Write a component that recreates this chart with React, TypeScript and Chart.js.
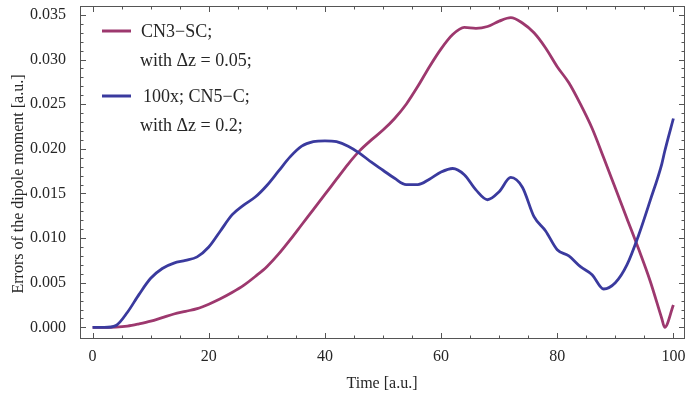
import { useEffect, useRef } from "react";
import { Chart, registerables } from "chart.js";

Chart.register(...registerables);

// ---- data ----
const times = [
  0, 2, 4, 6, 8, 10, 12, 14, 16, 18, 20, 22, 24, 26, 28, 30, 32, 34, 36, 38, 40,
  42, 44, 46, 48, 50, 52, 54, 56, 58, 60, 62, 64, 66, 68, 70, 72, 74, 76, 78, 80,
  82, 84, 86, 88, 90, 92, 94, 96, 98, 98.5, 100,
];

const cn3scErrors = [
  0, 0, 0.00003, 0.00015, 0.0004, 0.0007, 0.0011, 0.0015, 0.0018, 0.0021, 0.0026,
  0.0032, 0.0039, 0.0047, 0.0057, 0.0068, 0.0082, 0.0098, 0.0115, 0.0132, 0.0149,
  0.0166, 0.0183, 0.0198, 0.021, 0.0221, 0.0234, 0.025, 0.027, 0.0292, 0.0312,
  0.0328, 0.0336, 0.0335, 0.0337, 0.0343, 0.0347, 0.0341, 0.033, 0.0313, 0.0292,
  0.0274, 0.025, 0.0223, 0.019, 0.0156, 0.0122, 0.0088, 0.0052, 0.001, 0, 0.0025,
];

const cn5cErrors = [
  0, 0, 0.0002, 0.0017, 0.0037, 0.0055, 0.0066, 0.0072, 0.0075, 0.0079, 0.009,
  0.0108, 0.0126, 0.0137, 0.0146, 0.0159, 0.0175, 0.0191, 0.0203, 0.0208, 0.0209,
  0.0208, 0.0203, 0.0195, 0.0185, 0.0176, 0.0167, 0.016, 0.016, 0.0166, 0.0174,
  0.0178, 0.0171, 0.0154, 0.0143, 0.0152, 0.0168, 0.0157, 0.0124, 0.0108, 0.0087,
  0.008, 0.0068, 0.0059, 0.0043, 0.005, 0.007, 0.0103, 0.0142, 0.0183, 0.0197,
  0.0234,
];

const xTickValues = [0, 20, 40, 60, 80, 100];
const yTickValues = [0, 0.005, 0.01, 0.015, 0.02, 0.025, 0.03, 0.035];

const seriesNames = ["CN3−SC;", "100x; CN5−C;"];
const seriesSubtitles = ["with Δz = 0.05;", "with Δz = 0.2;"];
const xTitle = "Time [a.u.]";
const yTitle = "Errors of the dipole moment [a.u.]";

const PURPLE = "rgb(157,56,110)";
const BLUE = "rgb(58,58,158)";
const FONT = "'Liberation Serif', 'Times New Roman', serif";
const TEXT = "#262626";
const FRAME = "#555555";

const decorPlugin = {
  id: "decor",
  afterDraw(chart: any) {
    const ctx = chart.ctx as CanvasRenderingContext2D;
    const { left, right, top, bottom } = chart.chartArea;
    const xs = chart.scales.x;
    const ys = chart.scales.y;
    const L = left - 0.5;
    const R = right - 0.5;
    const T = top + 0.5;
    const B = bottom - 0.5;
    ctx.save();
    ctx.strokeStyle = FRAME;
    ctx.lineWidth = 1;
    ctx.strokeRect(L, T, R - L, B - T);

    // x ticks (inward, top and bottom)
    ctx.beginPath();
    for (let v = 0; v <= 100; v += 5) {
      const px = Math.round(xs.getPixelForValue(v)) + 0.5;
      const len = v % 20 === 0 ? 5.5 : 3;
      ctx.moveTo(px, B);
      ctx.lineTo(px, B - len);
      ctx.moveTo(px, T);
      ctx.lineTo(px, T + len);
    }
    // y ticks (inward, left and right)
    for (let i = 0; i <= 35; i++) {
      const v = i / 1000;
      const py = Math.round(ys.getPixelForValue(v)) + 0.5;
      const len = i % 5 === 0 ? 5.5 : 3;
      ctx.moveTo(L, py);
      ctx.lineTo(L + len, py);
      ctx.moveTo(R, py);
      ctx.lineTo(R - len, py);
    }
    ctx.stroke();

    // axis titles
    ctx.fillStyle = TEXT;
    ctx.font = `16px ${FONT}`;
    ctx.textAlign = "center";
    ctx.textBaseline = "middle";
    ctx.fillText(xTitle, 382, 384);
    ctx.save();
    ctx.translate(19, 184);
    ctx.rotate(-Math.PI / 2);
    ctx.fillText(yTitle, 0, 0);
    ctx.restore();

    // legend
    const colors = [PURPLE, BLUE];
    const rows = [31, 96];
    ctx.font = `18px ${FONT}`;
    ctx.textAlign = "left";
    for (let k = 0; k < 2; k++) {
      ctx.strokeStyle = colors[k];
      ctx.lineWidth = 3;
      ctx.beginPath();
      ctx.moveTo(102, rows[k]);
      ctx.lineTo(131, rows[k]);
      ctx.stroke();
      ctx.fillStyle = TEXT;
      ctx.fillText(seriesNames[k], k === 0 ? 141 : 143, rows[k] + 1);
      ctx.fillText(seriesSubtitles[k], 140, rows[k] + 30);
    }
    ctx.restore();
  },
};

export default function App() {
  const ref = useRef<HTMLCanvasElement>(null);

  useEffect(() => {
    const chart = new Chart(ref.current as HTMLCanvasElement, {
      type: "line",
      data: {
        datasets: [
          {
            label: seriesNames[1],
            data: times.map((t, i) => ({ x: t, y: cn5cErrors[i] })),
            borderColor: BLUE,
            borderWidth: 2.8,
            pointRadius: 0,
            cubicInterpolationMode: "monotone",
            fill: false,
          },
          {
            label: seriesNames[0],
            data: times.map((t, i) => ({ x: t, y: cn3scErrors[i] })),
            borderColor: PURPLE,
            borderWidth: 2.8,
            pointRadius: 0,
            cubicInterpolationMode: "monotone",
            fill: false,
          },
        ],
      },
      options: {
        responsive: false,
        animation: false,
        layout: { padding: { left: 0, right: 1, top: 6, bottom: 0 } },
        plugins: {
          legend: { display: false },
          tooltip: { enabled: false },
        },
        scales: {
          x: {
            type: "linear",
            min: -2,
            max: 102,
            grid: { display: false },
            border: { display: false },
            afterBuildTicks: (s: any) => {
              s.ticks = xTickValues.map((v) => ({ value: v }));
            },
            afterFit: (s: any) => {
              s.height = 60;
              s.paddingLeft = 0;
              s.paddingRight = 0;
            },
            ticks: {
              padding: 0,
              color: TEXT,
              font: { family: FONT, size: 16 },
              maxRotation: 0,
              callback: (v: any) => String(v),
            },
          },
          y: {
            type: "linear",
            min: -0.0013,
            max: 0.036,
            grid: { display: false },
            border: { display: false },
            afterBuildTicks: (s: any) => {
              s.ticks = yTickValues.map((v) => ({ value: v }));
            },
            afterFit: (s: any) => {
              s.width = 81;
              s.paddingTop = 0;
              s.paddingBottom = 0;
            },
            ticks: {
              padding: 7,
              color: TEXT,
              font: { family: FONT, size: 16 },
              callback: (v: any) => Number(v).toFixed(3),
            },
          },
        },
      },
      plugins: [decorPlugin],
    } as any);
    return () => chart.destroy();
  }, []);

  return (
    <div
      style={{
        position: "fixed",
        left: 0,
        top: 0,
        width: 686,
        height: 399,
        background: "#fff",
      }}
    >
      <canvas ref={ref} width={686} height={399} style={{ display: "block" }} />
    </div>
  );
}
